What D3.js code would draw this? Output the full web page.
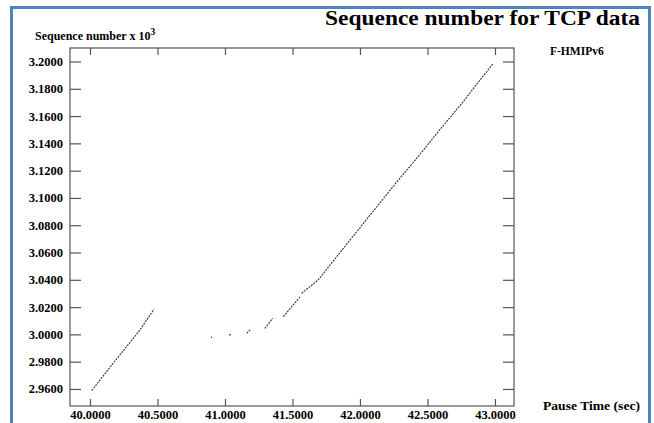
<!DOCTYPE html>
<html>
<head>
<meta charset="utf-8">
<script src="https://cdn.jsdelivr.net/npm/d3@7"></script>
<style>
  body { margin: 0; background: #fff; }
  text { font-family: "Liberation Serif", "DejaVu Serif", serif; fill: #000; }
</style>
</head>
<body>
<div id="chart"></div>
<script>
// tick values
var xTicks = [40.0, 40.5, 41.0, 41.5, 42.0, 42.5, 43.0];
var yTicks = [2.96, 2.98, 3.00, 3.02, 3.04, 3.06, 3.08, 3.10, 3.12, 3.14, 3.16, 3.18, 3.20];

// sequence number trace: [time, seq x 10^3], null = gap
var seqTime = [40.013, 40.185, 40.370, 40.474, null,
  40.897, 40.905, null,
  41.030, 41.045, null,
  41.160, 41.190, null,
  41.296, 41.353, null,
  41.432, 41.556, null,
  41.568, 41.691, 41.778, 41.950, 42.120, 42.284, 42.420, 42.600, 42.760, 42.889, 42.987];
var seqValue = [2.9588, 2.9805, 3.0032, 3.0184, null,
  2.9978, 2.9980, null,
  2.9993, 2.9999, null,
  3.0008, 3.0037, null,
  3.0044, 3.0118, null,
  3.0130, 3.0276, null,
  3.0301, 3.0399, 3.0508, 3.0720, 3.0930, 3.1131, 3.1290, 3.1510, 3.1700, 3.1864, 3.1986];

var W = 654, H = 423;
var plot = {left: 70, right: 514, top: 48, bottom: 406};

var svg = d3.select("#chart").append("svg")
  .attr("width", W)
  .attr("height", H);

// blue page border
svg.append("rect")
  .attr("x", 11.5).attr("y", 7.5)
  .attr("width", 638).attr("height", 430)
  .attr("fill", "none")
  .attr("stroke", "#4f81bd")
  .attr("stroke-width", 3);

var x = d3.scaleLinear().domain([39.852, 43.141]).range([plot.left, plot.right]);
var y = d3.scaleLinear().domain([2.9475, 3.2099]).range([plot.bottom, plot.top]);

// frame
svg.append("rect")
  .attr("x", plot.left).attr("y", plot.top)
  .attr("width", plot.right - plot.left).attr("height", plot.bottom - plot.top)
  .attr("fill", "none")
  .attr("stroke", "#555")
  .attr("stroke-width", 1.2);

// bottom axis, ticks pointing in
var xAxis = svg.append("g")
  .attr("transform", "translate(0," + plot.bottom + ")")
  .call(d3.axisBottom(x).tickValues(xTicks).tickSizeInner(-7).tickSizeOuter(0)
    .tickPadding(4).tickFormat(d3.format(".4f")));
xAxis.select(".domain").remove();

// top ticks
var xTop = svg.append("g")
  .attr("transform", "translate(0," + plot.top + ")")
  .call(d3.axisTop(x).tickValues(xTicks).tickSizeInner(-7).tickSizeOuter(0).tickFormat(""));
xTop.select(".domain").remove();

// left axis, ticks pointing in
var yAxis = svg.append("g")
  .attr("transform", "translate(" + plot.left + ",0)")
  .call(d3.axisLeft(y).tickValues(yTicks).tickSizeInner(-11).tickSizeOuter(0)
    .tickPadding(7).tickFormat(d3.format(".4f")));
yAxis.select(".domain").remove();

// right ticks
var yRight = svg.append("g")
  .attr("transform", "translate(" + plot.right + ",0)")
  .call(d3.axisRight(y).tickValues(yTicks).tickSizeInner(-11).tickSizeOuter(0).tickFormat(""));
yRight.select(".domain").remove();

svg.selectAll(".tick line").attr("stroke", "#555").attr("stroke-width", 1.2);
svg.selectAll(".tick text")
  .style("font-family", "'Liberation Serif', serif")
  .style("font-size", "12.5px")
  .style("font-weight", "bold")
  .attr("fill", "#111");

// trace
var pts = seqTime.map(function(t, i) { return [t, seqValue[i]]; });
var line = d3.line()
  .defined(function(d) { return d[0] !== null; })
  .x(function(d) { return x(d[0]); })
  .y(function(d) { return y(d[1]); });

svg.append("path")
  .datum(pts)
  .attr("d", line)
  .attr("fill", "none")
  .attr("stroke", "#333")
  .attr("stroke-width", 1.1)
  .attr("stroke-dasharray", "2,1");

// titles
svg.append("text")
  .attr("x", 325).attr("y", 25)
  .attr("textLength", 315)
  .attr("lengthAdjust", "spacingAndGlyphs")
  .style("font-size", "22px")
  .style("font-weight", "bold")
  .text("Sequence number for TCP data");

var yl = svg.append("text")
  .attr("x", 35).attr("y", 40)
  .style("font-size", "12px")
  .style("font-weight", "bold");
yl.append("tspan").text("Sequence number x 10");
yl.append("tspan").attr("dy", -5).style("font-size", "9.5px").text("3");

svg.append("text")
  .attr("x", 550).attr("y", 55)
  .style("font-size", "11.5px")
  .style("font-weight", "bold")
  .text("F-HMIPv6");

svg.append("text")
  .attr("x", 543).attr("y", 410)
  .attr("textLength", 97)
  .attr("lengthAdjust", "spacingAndGlyphs")
  .style("font-size", "12.5px")
  .style("font-weight", "bold")
  .text("Pause Time (sec)");
</script>
</body>
</html>
